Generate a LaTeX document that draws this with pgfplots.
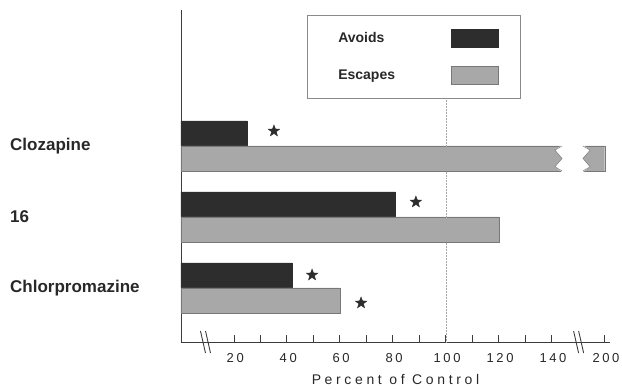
\documentclass[border=0pt]{standalone}
\usepackage{fontspec}
\setmainfont{Liberation Sans}
\newfontfamily\spaced[LetterSpace=20]{Liberation Sans}
\newfontfamily\spacedl[LetterSpace=26]{Liberation Sans}
\usepackage{pgfplots}
\pgfplotsset{compat=1.18}
\definecolor{avoid}{RGB}{45,45,45}
\definecolor{escape}{RGB}{168,168,168}
\definecolor{escline}{RGB}{120,120,120}
\definecolor{axc}{RGB}{60,60,60}
\definecolor{txt}{RGB}{40,40,40}
\pgfdeclareplotmark{fstar}{%
  \pgfpathmoveto{\pgfpointpolar{90}{\pgfplotmarksize}}%
  \pgfpathlineto{\pgfpointpolar{126}{0.42\pgfplotmarksize}}%
  \pgfpathlineto{\pgfpointpolar{162}{\pgfplotmarksize}}%
  \pgfpathlineto{\pgfpointpolar{198}{0.42\pgfplotmarksize}}%
  \pgfpathlineto{\pgfpointpolar{234}{\pgfplotmarksize}}%
  \pgfpathlineto{\pgfpointpolar{270}{0.42\pgfplotmarksize}}%
  \pgfpathlineto{\pgfpointpolar{306}{\pgfplotmarksize}}%
  \pgfpathlineto{\pgfpointpolar{342}{0.42\pgfplotmarksize}}%
  \pgfpathlineto{\pgfpointpolar{18}{\pgfplotmarksize}}%
  \pgfpathlineto{\pgfpointpolar{54}{0.42\pgfplotmarksize}}%
  \pgfpathclose\pgfusepathqfillstroke}
\begin{document}
\begin{tikzpicture}
\begin{axis}[
  scale only axis, width=429pt, height=332pt,
  xmin=0, xmax=162, ymin=0.239, ymax=4.915,
  axis lines*=left,
  axis line style={axc, line width=0.9pt, -},
  bar width=25pt,
  xtick={20,30,40,50,60,70,80,90,100,110,120,130,140,160},
  xticklabels={20,,40,,60,,80,,100,,120,,140,200},
  xtick align=inside, major tick length=7pt,
  xtick style={axc, line width=0.9pt},
  xticklabel style={font=\spaced\fontsize{13}{15}\selectfont, text=txt, yshift=-8pt, xshift=1.3pt},
  ytick={1,2,3}, yticklabels={Chlorpromazine,16,Clozapine},
  ytick style={draw=none},
  yticklabel style={anchor=west, xshift=-171pt, inner sep=0pt,
    font=\bfseries\fontsize{17}{20}\selectfont, text=txt},
  xlabel={Percent of Control},
  xlabel style={font=\spacedl\fontsize{14}{16}\selectfont, text=txt, yshift=-5pt},
  legend plot pos=right,
  legend image code/.code={\draw[#1] (0pt,-9pt) rectangle (47pt,9pt);},
  legend style={at={(0.2937,0.985)}, anchor=north west,
    draw=axc!60, line width=0.6pt, inner xsep=21pt, inner ysep=14pt,
    row sep=18pt, font=\bfseries\fontsize{14}{16}\selectfont, text=txt},
  clip=false,
]
\addplot[xbar, fill=avoid, draw=avoid, bar shift=12.5pt]
  coordinates {(42,1) (81,2) (25,3)};
\addlegendentry{\makebox[119pt][l]{\hspace{8pt}Avoids}}
% Clozapine escapes: 200 (drawn at 160 on the broken axis)
\addplot[xbar, fill=escape, draw=escline, bar shift=-12.5pt]
  coordinates {(60,1) (120,2) (160,3)};
\addlegendentry{\makebox[119pt][l]{\hspace{8pt}Escapes}}
\addplot[only marks, mark=fstar, mark size=6pt, fill=avoid, draw=avoid, forget plot]
  coordinates {(35.1,3.211) (88.7,2.211) (49.5,1.183) (68,0.789)};
% broken bar gap
\fill[white] (axis cs:143.9,3.015) -- (axis cs:141.2,2.941) -- (axis cs:143.9,2.824)
  -- (axis cs:141.2,2.707) -- (axis cs:143.9,2.633) -- (axis cs:151.8,2.633)
  -- (axis cs:154.5,2.707) -- (axis cs:151.8,2.824) -- (axis cs:154.5,2.941)
  -- (axis cs:151.8,3.015) -- cycle;
\draw[escline, line width=0.5pt] (axis cs:143.9,3.0) -- (axis cs:141.2,2.941) -- (axis cs:143.9,2.824)
  -- (axis cs:141.2,2.707) -- (axis cs:143.9,2.648);
\draw[escline, line width=0.5pt] (axis cs:151.8,3.0) -- (axis cs:154.5,2.941) -- (axis cs:151.8,2.824)
  -- (axis cs:154.5,2.707) -- (axis cs:151.8,2.648);
% reference line at 100
\draw[gray!70, densely dotted, line width=0.5pt] (axis cs:100,0.239) -- (axis cs:100,3.65);
% axis breaks
\draw[axc, line width=0.9pt] ([xshift=-2.5pt,yshift=11pt]axis cs:8.3,0.239) -- ([xshift=2.5pt,yshift=-11pt]axis cs:8.3,0.239);
\draw[axc, line width=0.9pt] ([xshift=-2.5pt,yshift=11pt]axis cs:10.2,0.239) -- ([xshift=2.5pt,yshift=-11pt]axis cs:10.2,0.239);
\draw[axc, line width=0.9pt] ([xshift=-2.5pt,yshift=11pt]axis cs:149.2,0.239) -- ([xshift=2.5pt,yshift=-11pt]axis cs:149.2,0.239);
\draw[axc, line width=0.9pt] ([xshift=-2.5pt,yshift=11pt]axis cs:151.1,0.239) -- ([xshift=2.5pt,yshift=-11pt]axis cs:151.1,0.239);
\end{axis}
\pgfresetboundingbox
\path (-181pt,-47pt) rectangle (441pt,342pt);
\end{tikzpicture}
\end{document}
